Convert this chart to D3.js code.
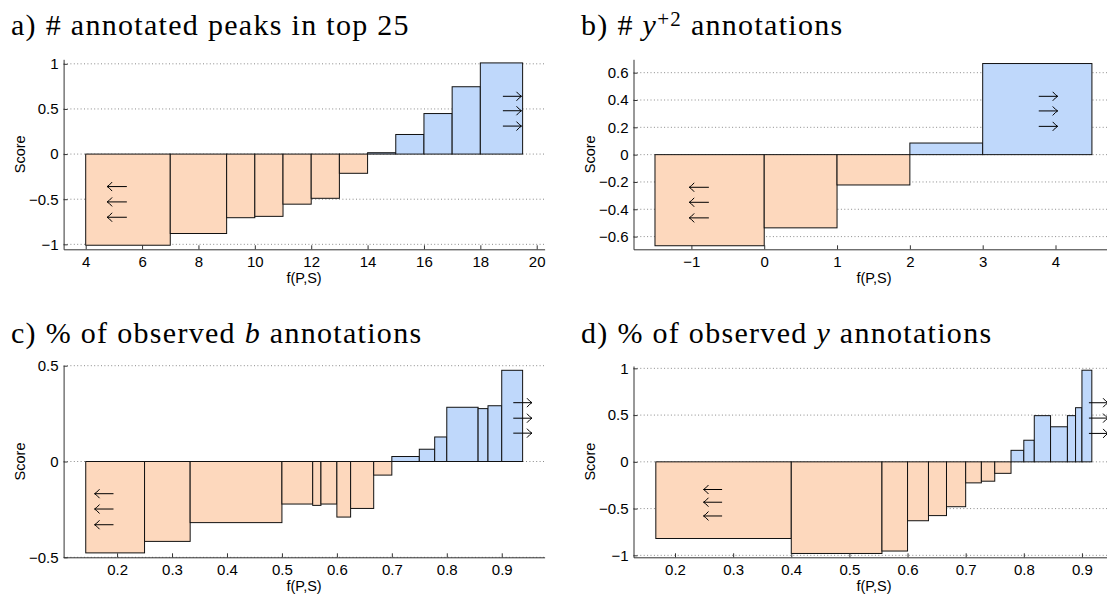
<!DOCTYPE html>
<html>
<head>
<meta charset="utf-8">
<script src="https://cdn.jsdelivr.net/npm/d3@7"></script>
<style>
  body { margin: 0; background: #fff; }
  svg { display: block; }
  .tick text { font-family: "Liberation Sans", Arial, sans-serif; font-size: 15px; fill: #000; }
  .lbl { font-family: "Liberation Sans", Arial, sans-serif; font-size: 14.5px; fill: #000; }
  .title { font-family: "Liberation Serif", "Times New Roman", serif; font-size: 30px; letter-spacing: 1.3px; fill: #000; }
</style>
</head>
<body>
<script>
// bin edges (f(P,S)) and score per bin
const aEdges = [4, 7, 9, 10, 11, 12, 13, 14, 15, 16, 17, 18, 19.5];
const aScores = [-1.01, -0.88, -0.705, -0.69, -0.555, -0.49, -0.213, 0.015, 0.217, 0.449, 0.746, 1.01];

const bEdges = [-1.5, 0, 1, 2, 3, 4.5];
const bScores = [-0.667, -0.536, -0.222, 0.085, 0.667];

const cEdges = [0.143, 0.25, 0.333, 0.5, 0.556, 0.571, 0.6, 0.625, 0.667, 0.7, 0.75, 0.778, 0.8, 0.857, 0.875, 0.9, 0.938];
const cScores = [-0.477, -0.417, -0.319, -0.222, -0.229, -0.222, -0.29, -0.245, -0.071, 0.026, 0.064, 0.128, 0.283, 0.276, 0.291, 0.476];

const dEdges = [0.167, 0.4, 0.556, 0.6, 0.636, 0.667, 0.7, 0.727, 0.75, 0.778, 0.8, 0.818, 0.846, 0.875, 0.889, 0.9, 0.917];
const dScores = [-0.82, -0.98, -0.954, -0.63, -0.575, -0.48, -0.225, -0.207, -0.123, 0.123, 0.231, 0.494, 0.375, 0.494, 0.579, 0.98];

// tick labels
const aXTicks = [4, 6, 8, 10, 12, 14, 16, 18, 20];
const aYTicks = [-1, -0.5, 0, 0.5, 1];
const bXTicks = [-1, 0, 1, 2, 3, 4];
const bYTicks = [-0.6, -0.4, -0.2, 0, 0.2, 0.4, 0.6];
const cXTicks = [0.2, 0.3, 0.4, 0.5, 0.6, 0.7, 0.8, 0.9];
const cYTicks = [-0.5, 0, 0.5];
const dXTicks = [0.2, 0.3, 0.4, 0.5, 0.6, 0.7, 0.8, 0.9];
const dYTicks = [-1, -0.5, 0, 0.5, 1];

// arrow annotations: tail x, head x and the y of each arrow
const aLeftArrows = {x: [5.46, 4.76], y: [-0.36, -0.53, -0.70]};
const aRightArrows = {x: [18.8, 19.46], y: [0.64, 0.48, 0.31]};
const bLeftArrows = {x: [-0.76, -1.03], y: [-0.239, -0.349, -0.463]};
const bRightArrows = {x: [3.77, 4.03], y: [0.427, 0.32, 0.207]};
const cLeftArrows = {x: [0.1935, 0.159], y: [-0.168, -0.248, -0.33]};
const cRightArrows = {x: [0.921, 0.955], y: [0.307, 0.226, 0.148]};
const dLeftArrows = {x: [0.281, 0.249], y: [-0.296, -0.432, -0.579]};
const dRightArrows = {x: [0.912, 0.945], y: [0.632, 0.468, 0.304]};

const W = 1107, H = 594;
const NEG = "#fdd8bd", POS = "#bfd8fb";

const svg = d3.select("body").append("svg")
    .attr("width", W)
    .attr("height", H);

function fmt(v) {
  return v < 0 ? "\u2212" + Math.abs(v) : String(v);
}

function arrowPath(x0, x1, y) {
  // tex-like arrow from x0 with head at x1
  const d = x1 > x0 ? -1 : 1;
  return `M${x0},${y}H${x1}M${x1 + d * 5},${y - 4.5}Q${x1 + d * 2},${y - 1} ${x1},${y}Q${x1 + d * 2},${y + 1} ${x1 + d * 5},${y + 4.5}`;
}

function drawPanel(p) {
  const x = d3.scaleLinear().domain(p.xDomain).range(p.xRange);
  const y = d3.scaleLinear().domain(p.yDomain).range(p.yRange);
  const g = svg.append("g");

  // dotted grid
  g.append("g").selectAll("line")
    .data(p.yTicks)
    .join("line")
      .attr("x1", p.xRange[0]).attr("x2", p.xRange[1])
      .attr("y1", d => y(d)).attr("y2", d => y(d))
      .attr("stroke", "#8a8a8a")
      .attr("stroke-width", 1)
      .attr("stroke-dasharray", "1,2.4");

  // bars
  const bins = p.scores.map((s, i) => ({x0: p.edges[i], x1: p.edges[i + 1], s}));
  g.append("g").selectAll("rect")
    .data(bins)
    .join("rect")
      .attr("x", d => x(d.x0))
      .attr("width", d => x(d.x1) - x(d.x0))
      .attr("y", d => y(Math.max(0, d.s)))
      .attr("height", d => Math.abs(y(d.s) - y(0)))
      .attr("fill", d => d.s < 0 ? NEG : POS)
      .attr("stroke", "#111")
      .attr("stroke-width", 1);

  // axes, ticks pointing inward
  const xAxis = d3.axisBottom(x).tickValues(p.xTicks).tickFormat(fmt).tickSizeInner(-4).tickSizeOuter(0).tickPadding(7);
  const yAxis = d3.axisLeft(y).tickValues(p.yTicks).tickFormat(fmt).tickSizeInner(-4).tickSizeOuter(0).tickPadding(5);

  const gx = g.append("g")
      .attr("transform", `translate(0,${p.yRange[0]})`)
      .call(xAxis);
  const gy = g.append("g")
      .attr("transform", `translate(${p.xRange[0]},0)`)
      .call(yAxis);
  [gx, gy].forEach(a => {
    a.select(".domain").attr("stroke", "#333");
    a.selectAll(".tick line").attr("stroke", "#333");
  });
  gx.selectAll(".tick text").attr("dy", "0.71em");

  // arrows
  [p.left, p.right].forEach(ar => {
    g.append("g").selectAll("path")
      .data(ar.y)
      .join("path")
        .attr("d", v => arrowPath(x(ar.x[0]), x(ar.x[1]), y(v)))
        .attr("fill", "none")
        .attr("stroke", "#000")
        .attr("stroke-width", 1);
  });

  // labels
  g.append("text")
      .attr("class", "lbl")
      .attr("x", (p.xRange[0] + p.xRange[1]) / 2)
      .attr("y", p.yRange[0] + 33.5)
      .attr("text-anchor", "middle")
      .text("f(P,S)");
  g.append("text")
      .attr("class", "lbl")
      .attr("transform", `translate(${p.xRange[0] - 39},${(p.yRange[0] + p.yRange[1]) / 2}) rotate(-90)`)
      .attr("text-anchor", "middle")
      .text("Score");

  const t = g.append("text")
      .attr("class", "title")
      .attr("x", p.titleX)
      .attr("y", p.titleY);
  p.title.forEach(part => {
    const s = t.append("tspan").text(part.t);
    if (part.i) s.attr("font-style", "italic");
    if (part.sup) s.attr("baseline-shift", "42%").attr("font-size", "21px");
  });
}

drawPanel({
  edges: aEdges, scores: aScores, xTicks: aXTicks, yTicks: aYTicks,
  left: aLeftArrows, right: aRightArrows,
  xDomain: [3.216, 20.28], xRange: [63.6, 544.6],
  yDomain: [-1.055, 1.05], yRange: [249.3, 59.3],
  titleX: 11, titleY: 35,
  title: [{t: "a) # annotated peaks in top 25"}]
});

drawPanel({
  edges: bEdges, scores: bScores, xTicks: bXTicks, yTicks: bYTicks,
  left: bLeftArrows, right: bRightArrows,
  xDomain: [-1.795, 4.81], xRange: [633.5, 1114.5],
  yDomain: [-0.693, 0.698], yRange: [249.3, 59.3],
  titleX: 581, titleY: 35,
  title: [{t: "b) # "}, {t: "y", i: true}, {t: "+2", sup: true}, {t: " annotations"}]
});

drawPanel({
  edges: cEdges, scores: cScores, xTicks: cXTicks, yTicks: cYTicks,
  left: cLeftArrows, right: cRightArrows,
  xDomain: [0.1027, 0.978], xRange: [63.6, 544.6],
  yDomain: [-0.5, 0.5], yRange: [557.3, 365.7],
  titleX: 11, titleY: 343,
  title: [{t: "c) % of observed "}, {t: "b", i: true}, {t: " annotations"}]
});

drawPanel({
  edges: dEdges, scores: dScores, xTicks: dXTicks, yTicks: dYTicks,
  left: dLeftArrows, right: dRightArrows,
  xDomain: [0.1286, 0.956], xRange: [633.5, 1114.5],
  yDomain: [-1.021, 1.025], yRange: [557.3, 366],
  titleX: 581, titleY: 343,
  title: [{t: "d) % of observed "}, {t: "y", i: true}, {t: " annotations"}]
});
</script>
</body>
</html>
